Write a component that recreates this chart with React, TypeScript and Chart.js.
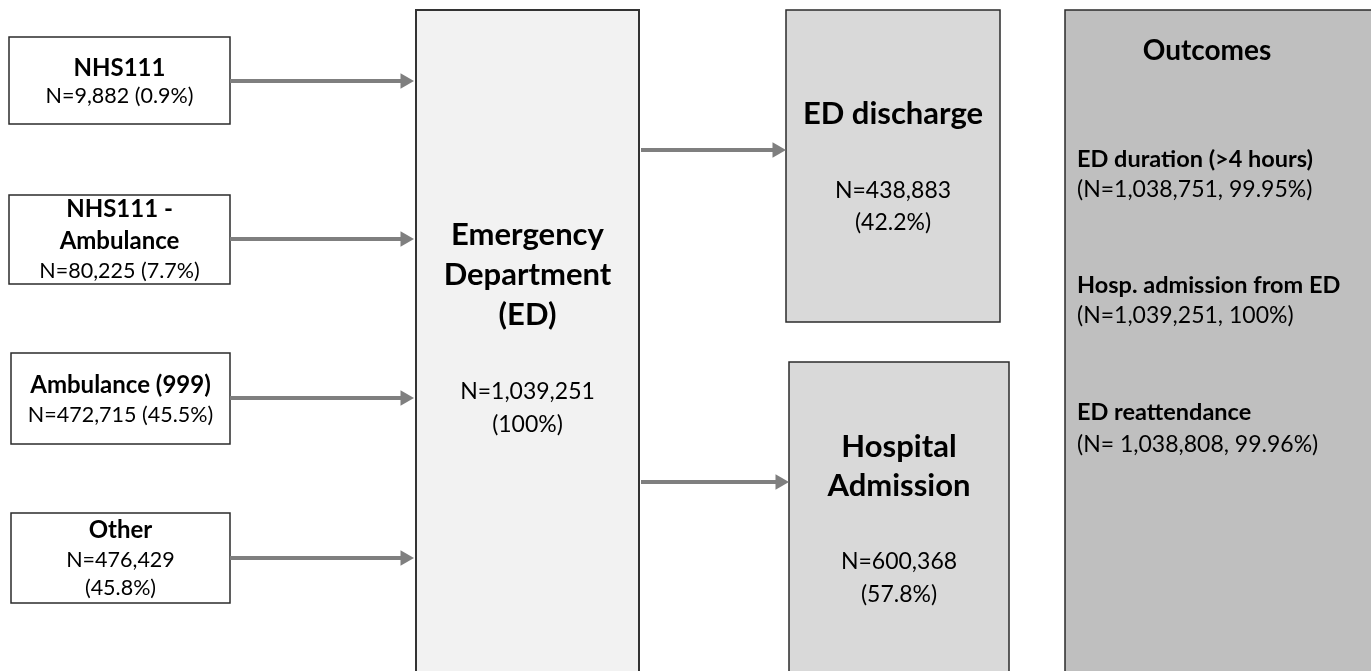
import React, { useEffect, useRef } from "react";
import { Chart, registerables } from "chart.js";

Chart.register(...registerables);

// ---------------- DATA ----------------
const sourceTitles = [["NHS111"], ["NHS111 -", "Ambulance"], ["Ambulance (999)"], ["Other"]];
const sourceCounts = [9882, 80225, 472715, 476429];
const sourcePcts = [0.9, 7.7, 45.5, 45.8];

const edTitle = ["Emergency", "Department", "(ED)"];
const edCount = 1039251;
const edPct = 100;

const destTitles = [["ED discharge"], ["Hospital", "Admission"]];
const destCounts = [438883, 600368];
const destPcts = [42.2, 57.8];

const outcomesTitle = "Outcomes";
const outcomeNames = ["ED duration (>4 hours)", "Hosp. admission from ED", "ED reattendance"];
const outcomeCounts = [1038751, 1039251, 1038808];
const outcomePcts = [99.95, 100, 99.96];

// ---------------- LAYOUT (diagram coordinates) ----------------
const W = 1371;
const H = 671;
const FONT = "Lato, 'Open Sans', sans-serif";

// [x0, y0, x1, y1]
const sourceBoxes = [
  [9, 37, 230, 124],
  [9, 195, 230, 284],
  [11, 353, 230, 444],
  [11, 513, 230, 603],
];
// baselines: title lines then count lines
const sourceTitleY = [[76], [217, 249], [393], [538]];
const sourceSubY = [[103], [278], [422], [567, 595]];
const sourceSubSplit = [false, false, false, true];
const sourceArrowY = [81, 239, 398, 558];

const edBox = [416, 10, 639, 690];
const edTitleY = [245, 285, 325];
const edSubY = [399, 432];

const destBoxes = [
  [786, 10, 1000, 322],
  [789, 362, 1009, 690],
];
const destTitleY = [[124], [457, 496]];
const destSubY = [[198, 230], [569, 602]];
const destArrowY = [150, 482];
const destArrowX0 = 641;

const outBox = [1065, 10, 1390, 690];
const outTitlePos = [1207, 60];
const outTextX = 1077;
const outNameY = [167, 293, 420];
const outValY = [197, 323, 452];

const ARROW_COLOR = "#7f7f7f";
const HEAD_R = 9;

const fmt = (n: number) => n.toLocaleString("en-US");

function App() {
  const ref = useRef<HTMLCanvasElement | null>(null);

  useEffect(() => {
    document.body.style.margin = "0";
    const canvas = ref.current;
    if (!canvas) return;

    const arrowSets: any[] = [];
    sourceArrowY.forEach((y, i) => {
      const x0 = sourceBoxes[i][2];
      const tip = edBox[0] - 2;
      arrowSets.push([{ x: x0, y }, { x: tip - HEAD_R, y }]);
    });
    destArrowY.forEach((y, i) => {
      const tip = destBoxes[i][0];
      arrowSets.push([{ x: destArrowX0, y }, { x: tip - HEAD_R, y }]);
    });

    const datasets = arrowSets.map((pts) => ({
      type: "line" as const,
      data: pts,
      borderColor: ARROW_COLOR,
      borderWidth: 4,
      pointRadius: [0, HEAD_R],
      pointStyle: "triangle",
      pointRotation: 90,
      pointBackgroundColor: ARROW_COLOR,
      pointBorderWidth: 0,
      pointBorderColor: ARROW_COLOR,
      fill: false,
      tension: 0,
      clip: false as any,
    }));

    const boxPlugin = {
      id: "boxes",
      beforeDatasetsDraw(chart: any) {
        const { ctx, scales } = chart;
        const sx = (v: number) => scales.x.getPixelForValue(v);
        const sy = (v: number) => scales.y.getPixelForValue(v);
        const rect = (b: number[], fill: string, stroke: string, lw: number) => {
          const x = sx(b[0]);
          const y = sy(b[1]);
          const w = sx(b[2]) - x;
          const h = sy(b[3]) - y;
          ctx.save();
          ctx.fillStyle = fill;
          ctx.fillRect(x, y, w, h);
          ctx.strokeStyle = stroke;
          ctx.lineWidth = lw;
          ctx.strokeRect(x, y, w, h);
          ctx.restore();
        };
        sourceBoxes.forEach((b) => rect(b, "#ffffff", "#2b2b2b", 1.5));
        rect(edBox, "#f2f2f2", "#333333", 2);
        destBoxes.forEach((b) => rect(b, "#d9d9d9", "#2b2b2b", 1.5));
        rect(outBox, "#bfbfbf", "#2b2b2b", 1.5);
      },
      afterDatasetsDraw(chart: any) {
        const { ctx, scales } = chart;
        const sx = (v: number) => scales.x.getPixelForValue(v);
        const sy = (v: number) => scales.y.getPixelForValue(v);
        const text = (s: string, x: number, y: number, font: string, align: CanvasTextAlign) => {
          ctx.save();
          ctx.font = font;
          ctx.fillStyle = "#000000";
          ctx.textAlign = align;
          ctx.textBaseline = "alphabetic";
          ctx.fillText(s, sx(x), sy(y));
          ctx.restore();
        };
        // sources
        sourceBoxes.forEach((b, i) => {
          const cx = (b[0] + b[2]) / 2;
          sourceTitles[i].forEach((t, j) => text(t, cx, sourceTitleY[i][j], `bold 24px ${FONT}`, "center"));
          const n = `N=${fmt(sourceCounts[i])}`;
          const p = `(${sourcePcts[i]}%)`;
          const subs = sourceSubSplit[i] ? [n, p] : [`${n} ${p}`];
          subs.forEach((t, j) => text(t, cx, sourceSubY[i][j], `21.5px ${FONT}`, "center"));
        });
        // ED
        const ecx = (edBox[0] + edBox[2]) / 2;
        edTitle.forEach((t, j) => text(t, ecx, edTitleY[j], `bold 31px ${FONT}`, "center"));
        text(`N=${fmt(edCount)}`, ecx, edSubY[0], `23px ${FONT}`, "center");
        text(`(${edPct}%)`, ecx, edSubY[1], `23px ${FONT}`, "center");
        // destinations
        destBoxes.forEach((b, i) => {
          const cx = (b[0] + b[2]) / 2;
          destTitles[i].forEach((t, j) => text(t, cx, destTitleY[i][j], `bold 31px ${FONT}`, "center"));
          text(`N=${fmt(destCounts[i])}`, cx, destSubY[i][0], `23px ${FONT}`, "center");
          text(`(${destPcts[i]}%)`, cx, destSubY[i][1], `23px ${FONT}`, "center");
        });
        // outcomes
        text(outcomesTitle, outTitlePos[0], outTitlePos[1], `bold 28px ${FONT}`, "center");
        outcomeNames.forEach((nm, i) => {
          text(nm, outTextX, outNameY[i], `bold 23.5px ${FONT}`, "left");
          const sep = i === 2 ? "N= " : "N=";
          text(`(${sep}${fmt(outcomeCounts[i])}, ${outcomePcts[i]}%)`, outTextX, outValY[i], `23px ${FONT}`, "left");
        });
      },
    };

    const chart = new Chart(canvas, {
      type: "line",
      data: { datasets },
      options: {
        animation: false,
        responsive: false,
        maintainAspectRatio: false,
        events: [],
        layout: { padding: 0, autoPadding: false },
        plugins: { legend: { display: false }, tooltip: { enabled: false }, title: { display: false } },
        scales: {
          x: { type: "linear", min: 0, max: W, display: false },
          y: { type: "linear", min: 0, max: H, reverse: true, display: false },
        },
      },
      plugins: [boxPlugin],
    });
    return () => chart.destroy();
  }, []);

  return (
    <div style={{ width: W, height: H, background: "#ffffff" }}>
      <canvas ref={ref} width={W} height={H} style={{ display: "block" }} />
    </div>
  );
}

export default App;
